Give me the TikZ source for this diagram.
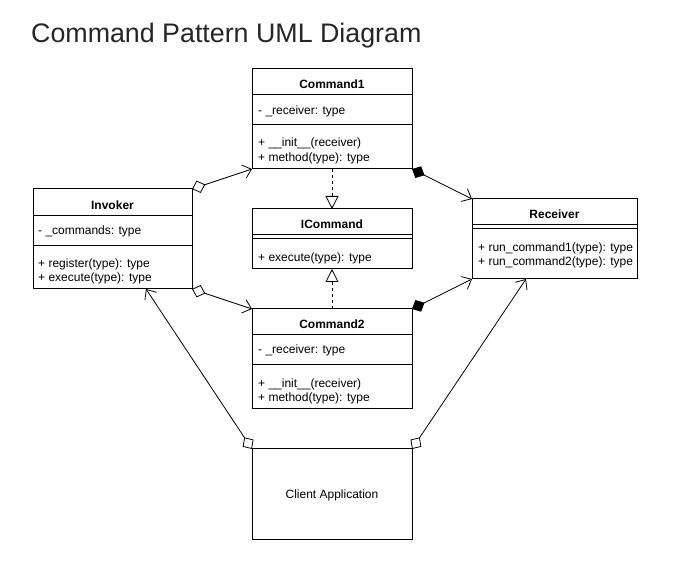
\documentclass[tikz,border=0pt]{standalone}
\usepackage{fontspec}
\setmainfont{Liberation Sans}
\usetikzlibrary{arrows.meta}
\begin{document}
\begin{tikzpicture}[x=1pt,y=-1pt,
  box/.style={draw=black, line width=1pt, rectangle, inner sep=0pt, outer sep=0pt, fill=white, font=\fontsize{12}{14}\selectfont},
  divider/.style={line width=1pt},
  ttl/.style={font=\fontsize{12}{14}\selectfont\bfseries, inner sep=0pt},
  txt/.style={font=\fontsize{12}{14}\selectfont, inner sep=0pt, anchor=west},
  conn/.style={line width=0.8pt},
  aggr/.style={conn, {Diamond[open, length=14pt, width=13pt, line width=0.8pt]}-{Straight Barb[length=8pt, width=14pt, line width=0.8pt]}},
  comp/.style={conn, {Diamond[length=14pt, width=13pt]}-{Straight Barb[length=8pt, width=14pt, line width=0.8pt]}},
  real/.style={conn, dashed, dash pattern=on 3pt off 3pt, -{Triangle[open, length=13pt, width=13pt, line width=0.8pt]}}
]
\useasboundingbox (0,0) rectangle (673,572);
\fill[white] (0,0) rectangle (673,572);

% title
\node[anchor=base west, inner sep=0pt, text=black!85, font=\fontsize{26.8}{30}\selectfont] (title) at (31,43) {Command Pattern UML Diagram};

% boxes
\node[box, minimum width=160pt, minimum height=100pt] (cmd1) at (332,119) {};
\node[box, minimum width=160pt, minimum height=60pt] (icmd) at (332,239) {};
\node[box, minimum width=160pt, minimum height=100pt] (cmd2) at (332,359) {};
\node[box, minimum width=160pt, minimum height=90pt] (client) at (332,494) {};
\node[txt, anchor=center] (clientt) at (332,495.5) {Client Application};
\node[box, minimum width=159pt, minimum height=100pt] (inv) at (112.5,239) {};
\node[box, minimum width=165pt, minimum height=80pt] (recv) at (554.5,239) {};

% dividers
\draw[divider] (252,95) -- (412,95);
\draw[divider] (252,125) -- (412,125);
\draw[divider] (252,235) -- (412,235);
\draw[divider] (252,239) -- (412,239);
\draw[divider] (252,335) -- (412,335);
\draw[divider] (252,365) -- (412,365);
\draw[divider] (33,216) -- (192,216);
\draw[divider] (33,246) -- (192,246);
\draw[divider] (472,225) -- (637,225);
\draw[divider] (472,229) -- (637,229);

% Command1 text
\node[ttl] (c1t) at (332,84) {Command1};
\node[txt] (c1a) at (258,111) {- \_receiver: type};
\node[txt] (c1m1) at (258,143.5) {+ \_\_init\_\_(receiver)};
\node[txt] (c1m2) at (258,158) {+ method(type): type};

% ICommand text
\node[ttl] (ict) at (332,224.5) {ICommand};
\node[txt] (icm) at (258,258) {+ execute(type): type};

% Command2 text
\node[ttl] (c2t) at (332,324.5) {Command2};
\node[txt] (c2a) at (258,350.5) {- \_receiver: type};
\node[txt] (c2m1) at (258,384) {+ \_\_init\_\_(receiver)};
\node[txt] (c2m2) at (258,398) {+ method(type): type};

% Invoker text
\node[ttl] (invt) at (112.5,205) {Invoker};
\node[txt] (inva) at (38,231) {- \_commands: type};
\node[txt] (invm1) at (38,264) {+ register(type): type};
\node[txt] (invm2) at (38,278) {+ execute(type): type};

% Receiver text
\node[ttl] (rt) at (554.5,214) {Receiver};
\node[txt] (rm1) at (478,248.5) {+ run\_command1(type): type};
\node[txt] (rm2) at (478,262) {+ run\_command2(type): type};

% extra connector end points
\coordinate (invB) at (146,289);
\coordinate (recvB) at (526,279);

% connectors
\draw[aggr] (inv.north east) -- (cmd1.south west);
\draw[aggr] (inv.south east) -- (cmd2.north west);
\draw[real] (cmd1.south) -- (icmd.north);
\draw[real] (cmd2.north) -- (icmd.south);
\draw[comp] (cmd1.south east) -- (recv.north west);
\draw[comp] (cmd2.north east) -- (recv.south west);
\draw[aggr] (client.north west) -- (invB);
\draw[aggr] (client.north east) -- (recvB);
\end{tikzpicture}
\end{document}
